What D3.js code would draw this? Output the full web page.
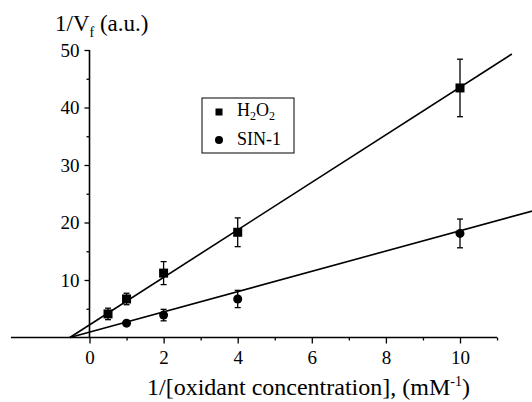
<!DOCTYPE html>
<html>
<head>
<meta charset="utf-8">
<script src="https://cdn.jsdelivr.net/npm/d3@7"></script>
</head>
<body>
<script>
// data
const xValsH2O2 = [0.5, 1, 2, 4, 10];
const yValsH2O2 = [4.1, 6.7, 11.2, 18.3, 43.4];
const errH2O2 = [1.0, 1.0, 2.0, 2.5, 5.0];
const xValsSIN = [1, 2, 4, 10];
const yValsSIN = [2.5, 3.9, 6.7, 18.1];
const errSIN = [0.3, 1.0, 1.5, 2.5];
// linear fit ends [x0, y0, x1, y1]
const fitH2O2 = [-0.53, 0, 11.4, 49.3];
const fitSIN = [-0.53, 0, 11.95, 22.0];
const xTicks = [0, 2, 4, 6, 8, 10];
const xMinor = [1, 3, 5, 7, 9, 11];
const yTicks = [10, 20, 30, 40, 50];
const yMinor = [5, 15, 25, 35, 45];
const xExtent = [-2.12, 11];

const width = 532, height = 402;
const serif = "'Liberation Serif', Tinos, 'Times New Roman', Times, serif";

d3.select("body").style("margin", "0px");
const svg = d3.select("body")
    .append("svg")
    .attr("width", width)
    .attr("height", height)
    .attr("font-family", serif);

const x = d3.scaleLinear().domain([0, 10]).range([89.5, 460]);
const y = d3.scaleLinear().domain([0, 50]).range([337.5, 50]);

// x axis
const xAxisG = svg.append("g").attr("transform", `translate(0,${y(0)})`);
xAxisG.append("line")
    .attr("x1", x(xExtent[0])).attr("x2", x(xExtent[1]))
    .attr("stroke", "#000").attr("stroke-width", 1.6);
xAxisG.call(d3.axisBottom(x).tickValues(xMinor).tickSize(3).tickFormat(""))
    .call(g => g.select(".domain").remove());
svg.append("g").attr("transform", `translate(0,${y(0)})`)
    .call(d3.axisBottom(x).tickValues(xTicks).tickSize(6).tickPadding(7).tickFormat(d3.format("d")))
    .call(g => g.select(".domain").remove())
    .attr("font-size", 19);

// y axis
const yAxisG = svg.append("g").attr("transform", `translate(${x(0)},0)`);
yAxisG.append("line")
    .attr("y1", y(50)).attr("y2", y(0))
    .attr("stroke", "#000").attr("stroke-width", 1.6);
yAxisG.call(d3.axisLeft(y).tickValues(yMinor).tickSize(3).tickFormat(""))
    .call(g => g.select(".domain").remove());
svg.append("g").attr("transform", `translate(${x(0)},0)`)
    .call(d3.axisLeft(y).tickValues(yTicks).tickSize(5).tickPadding(5).tickFormat(d3.format("d")))
    .call(g => g.select(".domain").remove())
    .attr("font-size", 19);
svg.selectAll(".tick line").attr("stroke-width", 1.3);
svg.selectAll(".tick text").attr("fill", "#000");
// drop the sans-serif that d3.axis puts on its groups
svg.selectAll("g").attr("font-family", null);

// fit lines
const plot = svg.append("g");
[fitH2O2, fitSIN].forEach(f => {
    plot.append("line")
        .attr("x1", x(f[0])).attr("y1", y(f[1]))
        .attr("x2", x(f[2])).attr("y2", y(f[3]))
        .attr("stroke", "#000").attr("stroke-width", 1.6);
});

// error bars
function errorBars(xs, ys, es) {
    const g = plot.append("g").attr("stroke", "#000").attr("stroke-width", 1.3);
    xs.forEach((xv, i) => {
        const top = y(ys[i] + es[i]), bot = y(ys[i] - es[i]), cx = x(xv);
        g.append("line").attr("x1", cx).attr("x2", cx).attr("y1", top).attr("y2", bot);
        g.append("line").attr("x1", cx - 3).attr("x2", cx + 3).attr("y1", top).attr("y2", top);
        g.append("line").attr("x1", cx - 3).attr("x2", cx + 3).attr("y1", bot).attr("y2", bot);
    });
}
errorBars(xValsH2O2, yValsH2O2, errH2O2);
errorBars(xValsSIN, yValsSIN, errSIN);

// markers
plot.selectAll(".sq").data(xValsH2O2).join("rect")
    .attr("x", d => x(d) - 4.5)
    .attr("y", (d, i) => y(yValsH2O2[i]) - 4.5)
    .attr("width", 9).attr("height", 9)
    .attr("fill", "#000");
plot.selectAll(".ci").data(xValsSIN).join("circle")
    .attr("cx", d => x(d))
    .attr("cy", (d, i) => y(yValsSIN[i]))
    .attr("r", 4.5)
    .attr("fill", "#000");

// legend
const legend = svg.append("g");
legend.append("rect")
    .attr("x", 202).attr("y", 98).attr("width", 92).attr("height", 55)
    .attr("fill", "none").attr("stroke", "#000").attr("stroke-width", 1);
legend.append("rect").attr("x", 215.5).attr("y", 108.5).attr("width", 7).attr("height", 7).attr("fill", "#000");
legend.append("circle").attr("cx", 219).attr("cy", 140).attr("r", 4).attr("fill", "#000");
const l1 = legend.append("text").attr("x", 237).attr("y", 116).attr("font-size", 18);
l1.append("tspan").text("H");
l1.append("tspan").text("2").attr("dy", 4).attr("font-size", 12);
l1.append("tspan").text("O").attr("dy", -4);
l1.append("tspan").text("2").attr("dy", 4).attr("font-size", 12);
legend.append("text").attr("x", 237).attr("y", 145).attr("font-size", 18).text("SIN-1");

// axis titles
const yt = svg.append("text").attr("x", 55).attr("y", 31).attr("font-size", 23);
yt.append("tspan").text("1/V");
yt.append("tspan").text("f").attr("dy", 6).attr("font-size", 14);
yt.append("tspan").text(" (a.u.)").attr("dy", -6);

const xt = svg.append("text").attr("x", 147).attr("y", 395).attr("font-size", 24);
xt.append("tspan").text("1/[oxidant concentration], (mM");
xt.append("tspan").text("-1").attr("dy", -9).attr("font-size", 14);
xt.append("tspan").text(")").attr("dy", 9);

// serif face set on every text node directly
svg.selectAll("text").attr("font-family", serif);
</script>
</body>
</html>
